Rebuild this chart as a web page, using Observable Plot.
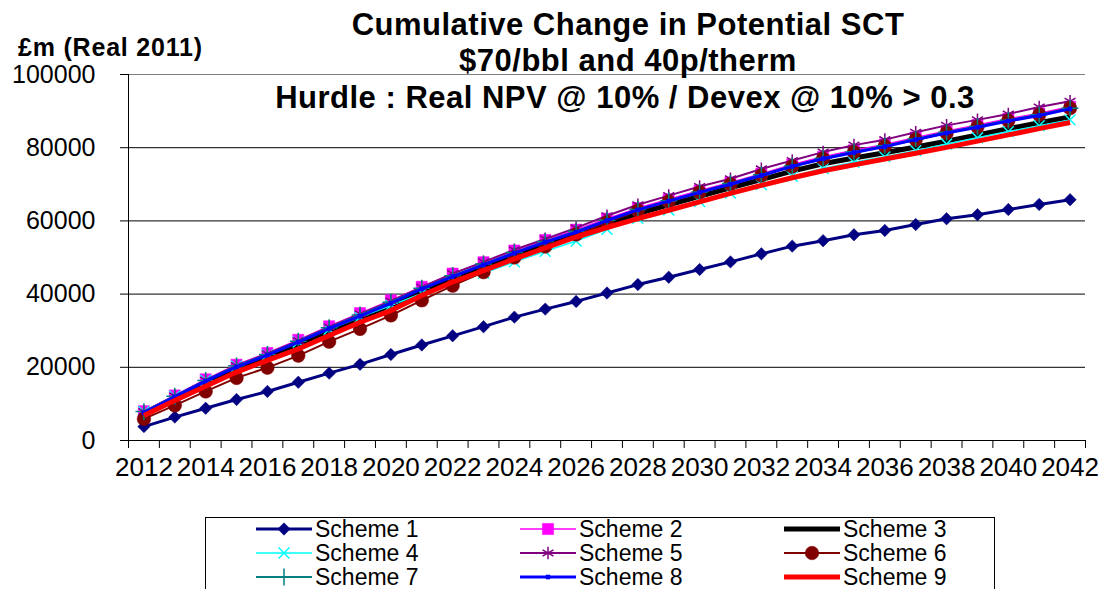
<!DOCTYPE html>
<html><head><meta charset="utf-8">
<script src="https://cdn.jsdelivr.net/npm/d3@7"></script>
<script src="https://cdn.jsdelivr.net/npm/@observablehq/plot@0.6"></script>
<style>
body{margin:0;background:#fff;overflow:hidden;font-family:"Liberation Sans",Arial,sans-serif;}
#wrap{position:relative;width:1105px;height:589px;overflow:hidden;background:#fff;}
#chart{position:absolute;left:0;top:0;}
.t{position:absolute;font-weight:bold;color:#000;white-space:nowrap;letter-spacing:0.5px;}
#legend{position:absolute;left:205px;top:517px;width:790px;height:90px;border:1px solid #000;box-sizing:border-box;background:#fff;}
.li{position:absolute;height:24px;display:flex;align-items:center;font-size:23px;color:#000;white-space:nowrap;}
.li svg{margin-right:3px;}
</style></head><body>
<div id="wrap">
  <div id="chart"></div>
  <div class="t" style="left:0;width:1256px;text-align:center;top:7px;font-size:31px;">Cumulative Change in Potential SCT</div>
  <div class="t" style="left:0;width:1256px;text-align:center;top:43px;font-size:31px;">$70/bbl and 40p/therm</div>
  <div class="t" style="left:0;width:1250px;text-align:center;top:80px;font-size:31px;">Hurdle : Real NPV @ 10% / Devex @ 10% &gt; 0.3</div>
  <div class="t" style="left:18px;top:33px;font-size:25px;letter-spacing:0.8px;">£m (Real 2011)</div>
  <div id="legend"></div>
</div>
<script>
const years = [2012,2013,2014,2015,2016,2017,2018,2019,2020,2021,2022,2023,2024,2025,2026,2027,2028,2029,2030,2031,2032,2033,2034,2035,2036,2037,2038,2039,2040,2041,2042];
const labelYears = [2012,2014,2016,2018,2020,2022,2024,2026,2028,2030,2032,2034,2036,2038,2040,2042];
const yTicks = [0,20000,40000,60000,80000,100000];

const scheme1 = [3800,6400,8800,11200,13400,15900,18400,20800,23500,26100,28600,31100,33700,35900,38000,40300,42600,44600,46700,48800,51000,53100,54600,56200,57400,59000,60600,61700,63100,64500,65800];
const scheme2 = [8000,12300,16700,20700,23900,27500,31200,34800,38300,42000,45600,48700,51900,54800,57600,60600,63500,65900,68300,70500,72900,75400,77500,79300,80900,82800,84600,86200,87900,89400,91200];
const scheme3 = [7300,11500,15800,19700,22900,26400,30000,33500,37000,40800,44300,47500,50600,53600,56500,59400,62000,64400,66700,69000,71300,73600,75600,77200,78600,80200,81800,83500,85200,86800,88400];
const scheme4 = [7900,12100,16400,20300,23400,26900,30400,33700,36900,40200,43000,45700,48800,51700,54500,57700,60700,63000,65300,67600,69900,72200,74300,76000,77500,79200,81000,82700,84400,86000,87600];
const scheme5 = [7900,12200,16500,20500,23700,27300,31000,34600,38100,41900,45600,48800,52100,55100,58100,61400,64400,66900,69400,71500,74200,76500,78800,80700,82200,84200,86100,87600,89200,91100,92700];
const scheme6 = [5900,9600,13400,17100,19900,23200,27000,30500,34200,38300,42300,46000,50000,53000,56300,59600,62800,65300,67800,70000,72400,74900,77000,78800,80400,82200,84000,85700,87400,89000,90800];
const scheme7 = [7900,12100,16400,20400,23500,27100,30800,34300,37800,41600,45000,48200,51400,54400,57200,60200,63100,65500,67900,70200,72600,75000,77100,78900,80500,82400,84200,85800,87500,89000,90800];
const scheme8 = [7600,11900,16200,20100,23300,26900,30600,34000,37500,41400,44800,48000,51200,54200,56900,60100,63000,65400,67800,70000,72400,74900,77000,78700,80300,82200,84000,85600,87300,88800,90600];
const scheme9 = [6800,10900,14800,18700,21900,25000,28700,32300,35500,39600,43300,46400,49600,52600,55600,58200,60600,62900,65200,67500,69700,71800,73700,75300,76900,78500,80100,81800,83500,85200,86900];

const seriesNames = ["Scheme 1","Scheme 2","Scheme 3","Scheme 4","Scheme 5","Scheme 6","Scheme 7","Scheme 8","Scheme 9"];
const seriesValues = [scheme1,scheme2,scheme3,scheme4,scheme5,scheme6,scheme7,scheme8,scheme9];
const seriesColors = ["#000080","#FF00FF","#000000","#00FFFF","#800080","#800000","#008080","#0000FF","#FF0000"];
const lineWidths = [3,1.5,5,1.5,2,2,2,3,5];
const symbols = ["diamond2","square",null,"times","asterisk","circle","plus","square",null];
const symbolR = [5.6,6.3,0,5,6,6.8,5.5,2.3,0];
const symbolFilled = [true,true,false,false,false,true,false,true,false];

const rows = [];
seriesNames.forEach((name,i) => years.forEach((yr,j) => rows.push({series:name, idx:i, year:yr, value:seriesValues[i][j]})));

const tickEdges = years.map(y => y - 0.5).concat([years[years.length-1] + 0.5]);
const xDomain = [tickEdges[0], tickEdges[tickEdges.length-1]];

const marks = [
  Plot.ruleY(yTicks, {stroke: d => d === 100000 ? "#808080" : "#000", strokeWidth: 1}),
  Plot.ruleX([xDomain[0]], {stroke:"#000", strokeWidth:1}),
  Plot.axisY({ticks: yTicks, tickSize: 8, tickPadding: 25, fontSize: 25, tickFormat: d3.format("d"), label: null, stroke:"#000"}),
  Plot.axisX({ticks: tickEdges, tickSize: 8, tickFormat: () => "", label: null, stroke:"#000"}),
  Plot.axisX({ticks: labelYears, tickSize: 0, tickPadding: 17, fontSize: 26, tickFormat: d3.format("d"), label: null})
];
seriesNames.forEach((name,i) => {
  const data = rows.filter(r => r.idx === i);
  marks.push(Plot.line(data, {x:"year", y:"value", stroke: seriesColors[i], strokeWidth: lineWidths[i], strokeLinejoin:"round", strokeLinecap:"butt"}));
  if (symbols[i]) {
    marks.push(Plot.dot(data, {x:"year", y:"value", symbol: symbols[i], r: symbolR[i],
      fill: symbolFilled[i] ? seriesColors[i] : "none",
      stroke: seriesColors[i], strokeWidth: symbolFilled[i] ? 0.5 : 1.5}));
  }
});

const chart = Plot.plot({
  width: 1105, height: 505,
  marginLeft: 128, marginRight: 20, marginTop: 74, marginBottom: 65,
  style: {fontFamily: '"Liberation Sans", Arial, sans-serif', color:"#000", background:"#fff", overflow:"visible"},
  x: {type:"linear", domain: xDomain, axis: null},
  y: {domain: [0,100000], axis: null},
  marks
});
document.getElementById("chart").appendChild(chart);

// legend
const symMap = {diamond2: d3.symbolDiamond2, square: d3.symbolSquare, times: d3.symbolTimes, asterisk: d3.symbolAsterisk, circle: d3.symbolCircle, plus: d3.symbolPlus};
const colX = [256, 520, 784];
const rowY = [529, 553, 577];
const legend = document.getElementById("legend");
seriesNames.forEach((name,i) => {
  const col = i % 3, row = Math.floor(i / 3);
  const div = document.createElement("div");
  div.className = "li";
  div.style.left = (colX[col] - 206) + "px";
  div.style.top = (rowY[row] - 12 - 518) + "px";
  const svg = d3.create("svg").attr("width", 56).attr("height", 24);
  svg.append("line").attr("x1",0).attr("x2",56).attr("y1",12).attr("y2",12)
    .attr("stroke", seriesColors[i]).attr("stroke-width", lineWidths[i]);
  if (symbols[i]) {
    svg.append("path").attr("transform","translate(28,12)")
      .attr("d", d3.symbol(symMap[symbols[i]], symbolR[i]*symbolR[i]*Math.PI)())
      .attr("fill", symbolFilled[i] ? seriesColors[i] : "none")
      .attr("stroke", seriesColors[i]).attr("stroke-width", symbolFilled[i] ? 0.5 : 1.5);
  }
  div.appendChild(svg.node());
  const span = document.createElement("span");
  span.textContent = name;
  div.appendChild(span);
  legend.appendChild(div);
});
</script>
</body></html>
